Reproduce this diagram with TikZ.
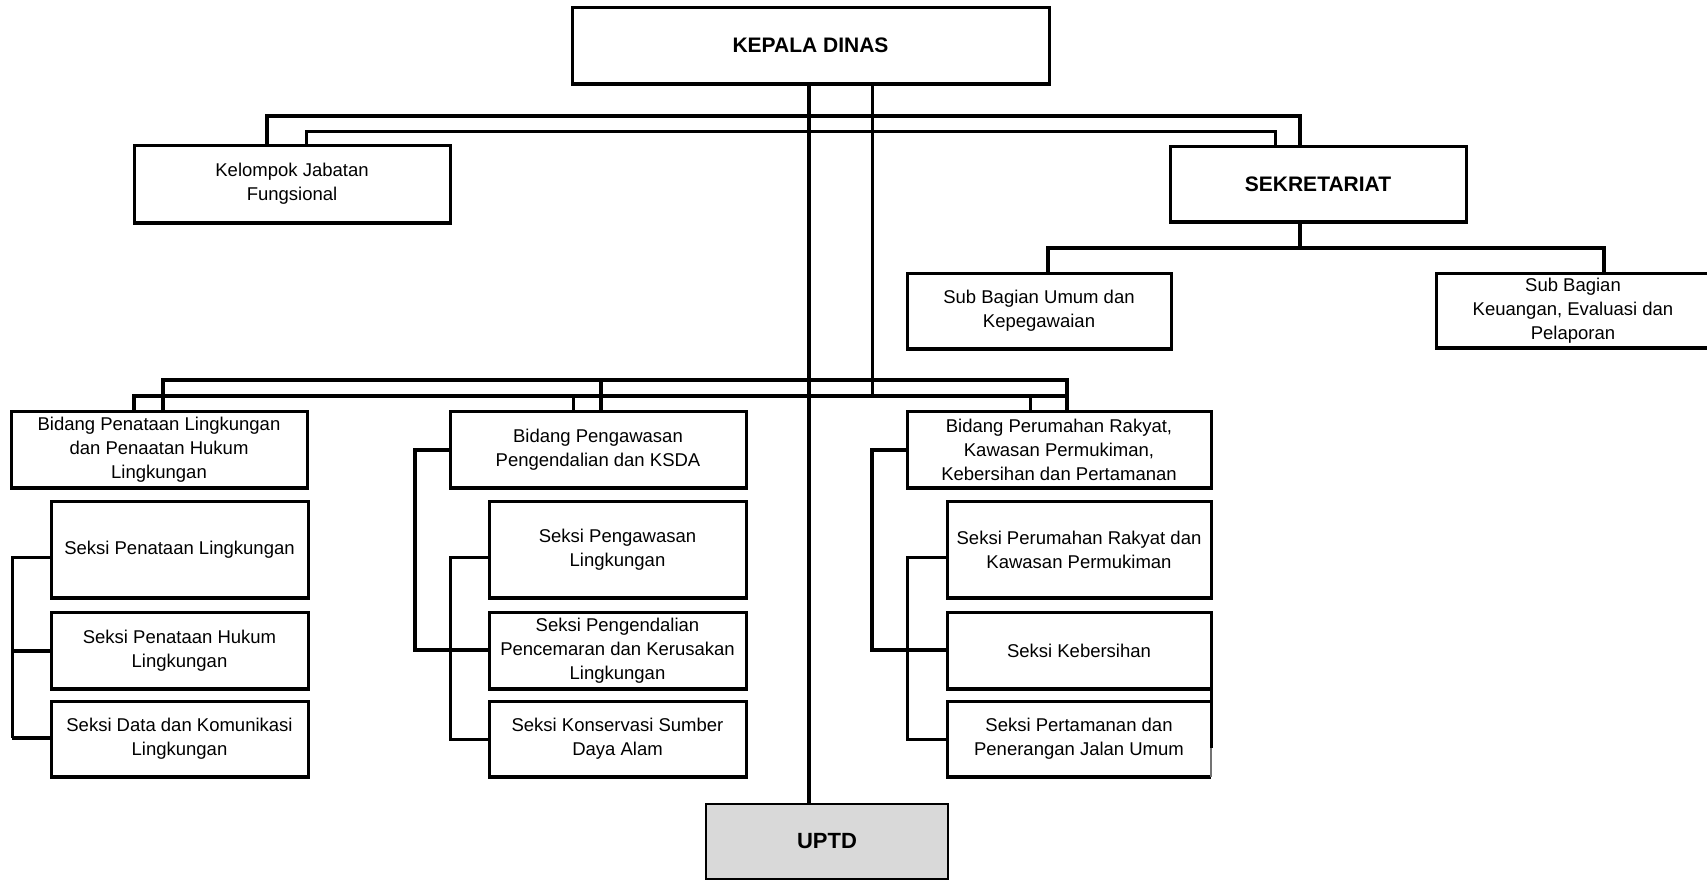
\documentclass[tikz,border=0pt]{standalone}
\usepackage{fontspec}
\setmainfont{Liberation Sans}
\definecolor{uptdgray}{RGB}{217,217,217}
\tikzset{
  box/.style 2 args={draw, line width=1.5pt, minimum width=#1*0.5pt, minimum height=#2*0.5pt,
    inner sep=0pt, outer sep=0pt, align=center, font=\fontsize{9.25}{12}\selectfont},
  bold/.style={font=\fontsize{10.5}{12.6}\selectfont\bfseries},
  botline/.style={line width=1.9pt},
  busthick/.style={line width=1.8pt},
  busthin/.style={line width=1.5pt},
  conn/.style={line width=1.7pt},
}
\begin{document}
\begin{tikzpicture}[x=0.5pt,y=-0.5pt,line join=miter]
\useasboundingbox (0,0) rectangle (1707,880);
\clip (0,0) rectangle (1707,880);
% boxes
\node[box={477}{77},bold] (kd) at (810.5,45.5) {KEPALA DINAS};
\node[box={316}{78}] (kjf) at (292,184) {Kelompok Jabatan\\Fungsional};
\node[box={296}{76},bold] (sek) at (1318,184) {SEKRETARIAT};
\node[box={264}{76}] (sbu) at (1039,311) {Sub Bagian Umum dan\\Kepegawaian};
\node[box={274}{75}] (sbk) at (1573,310.5) {Sub Bagian\\Keuangan, Evaluasi dan\\Pelaporan};
\node[box={296}{77}] (bd1) at (159,449.5) {Bidang Penataan Lingkungan\\dan Penaatan Hukum\\Lingkungan};
\node[box={296}{77}] (bd2) at (598,449.5) {Bidang Pengawasan\\Pengendalian dan KSDA};
\node[box={304}{77}] (bd3) at (1059,449.5) {Bidang Perumahan Rakyat,\\Kawasan Permukiman,\\Kebersihan dan Pertamanan};
\node[box={257}{97}] (s1a) at (179.5,549.5) {Seksi Penataan Lingkungan};
\node[box={257}{77}] (s1b) at (179.5,650.5) {Seksi Penataan Hukum\\Lingkungan};
\node[box={257}{76}] (s1c) at (179.5,739) {Seksi Data dan Komunikasi\\Lingkungan};
\node[box={257}{97}] (s2a) at (617.5,549.5) {Seksi Pengawasan\\Lingkungan};
\node[box={257}{77}] (s2b) at (617.5,650.5) {Seksi Pengendalian\\Pencemaran dan Kerusakan\\Lingkungan};
\node[box={257}{76}] (s2c) at (617.5,739) {Seksi Konservasi Sumber\\Daya Alam};
\node[box={264}{97}] (s3a) at (1079,549.5) {Seksi Perumahan Rakyat dan\\Kawasan Permukiman};
\node[box={264}{77}] (s3b) at (1079,650.5) {Seksi Kebersihan};
\node[box={264}{76},draw=none] (s3c) at (1079,739) {Seksi Pertamanan dan\\Penerangan Jalan Umum};
\node[box={242}{75},fill=uptdgray,line width=0.7pt,font=\fontsize{11}{13}\selectfont\bfseries] (uptd) at (827,841.5) {UPTD};
% heavier bottom edges
\foreach \n in {kd,kjf,sek,sbu,sbk,bd1,bd2,bd3,s1a,s1b,s1c,s2a,s2b,s2c,s3a,s3b}
  \draw[botline] (\n.south west) -- (\n.south east);
% last box of column 3 (broken right edge)
\draw[line width=1.5pt] (s3c.north east) -- (s3c.north west) -- (s3c.south west) -- (s3c.south east);
\draw[botline] (s3c.south west) -- (s3c.south east);
\draw[line width=0.6pt,black!55] (s3c.north east) -- (s3c.south east);
\draw[line width=1.5pt] (s3b.south east) -- ++(0,59);
% junction coordinates
\coordinate (tA) at (809,0);
\coordinate (tB) at (872,0);
\coordinate (kA) at (267,116); \coordinate (sA) at (1300,116);
\coordinate (kB) at (306,131); \coordinate (sB) at (1275,131);
\coordinate (sS) at (1300,248); \coordinate (uL) at (1048,248); \coordinate (uR) at (1604,248);
\coordinate (b1A) at (163,380); \coordinate (b2A) at (601,380); \coordinate (b3A) at (1067,380);
\coordinate (b1B) at (134,396); \coordinate (b2B) at (573,396); \coordinate (b3B) at (1030,396);
\coordinate (bE) at (1067,396);
\coordinate (k1a) at (12,557); \coordinate (k1b) at (12,651); \coordinate (k1c) at (12,738);
\coordinate (o2t) at (415,450); \coordinate (o2b) at (415,650);
\coordinate (i2t) at (450,557); \coordinate (i2b) at (450,739);
\coordinate (o3t) at (872,450); \coordinate (o3b) at (872,650);
\coordinate (i3t) at (907,557); \coordinate (i3b) at (907,739);
% trunks
\draw[busthick] (kd.south -| tA) -- (uptd.north -| tA);
\draw[busthin] (kd.south -| tB) -- (tB |- bE);
% top buses
\draw[busthick] (kjf.north -| kA) -- (kA) -- (sA) -- (sek.north -| sA);
\draw[busthin] (kjf.north -| kB) -- (kB) -- (sB) -- (sek.north -| sB);
% sekretariat
\draw[conn] (sek.south -| sS) -- (sS);
\draw[conn] (sbu.north -| uL) -- (uL) -- (uR) -- (sbk.north -| uR);
% bidang buses
\draw[conn] (bd1.north -| b1A) -- (b1A) -- (b3A) -- (bd3.north -| b3A);
\draw[conn] (bd1.north -| b1B) -- (b1B) -- (bE);
\draw[conn] (b2A) -- (bd2.north -| b2A);
\draw[busthin] (b2B) -- (bd2.north -| b2B);
\draw[busthin] (b3B) -- (bd3.north -| b3B);
% column 1 bracket
\draw[busthin] (s1a.west |- k1a) -- (k1a) -- (k1c);
\draw[busthick] (k1b) -- (s1b.west |- k1b);
\draw[busthick] (k1c) -- (s1c.west |- k1c);
% column 2 brackets
\draw[busthick] (bd2.west |- o2t) -- (o2t) -- (o2b) -- (s2b.west |- o2b);
\draw[busthin] (s2a.west |- i2t) -- (i2t) -- (i2b) -- (s2c.west |- i2b);
% column 3 brackets
\draw[busthick] (bd3.west |- o3t) -- (o3t) -- (o3b) -- (s3b.west |- o3b);
\draw[busthin] (s3a.west |- i3t) -- (i3t) -- (i3b) -- (s3c.west |- i3b);
\end{tikzpicture}
\end{document}
